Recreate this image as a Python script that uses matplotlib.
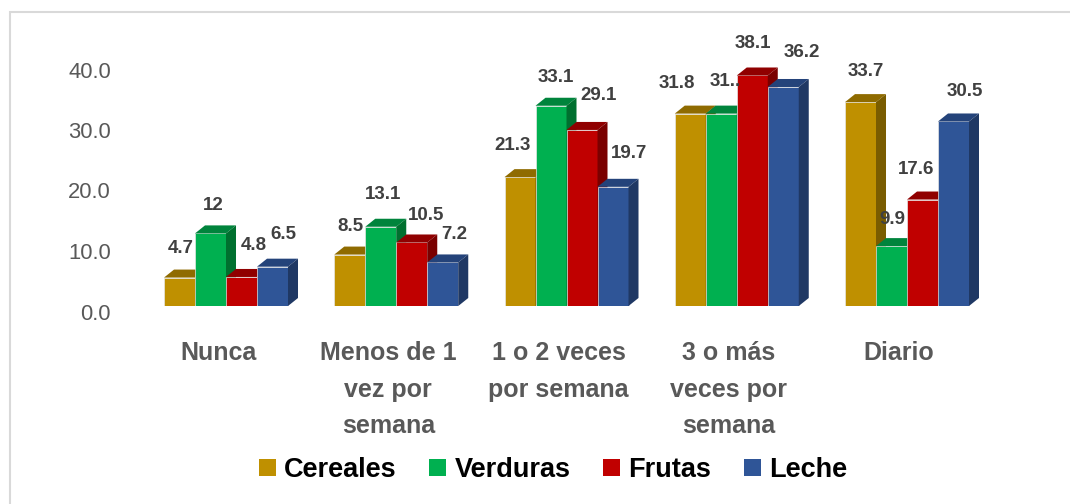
import matplotlib
matplotlib.use("Agg")
import matplotlib.pyplot as plt
from matplotlib.patches import Rectangle, Patch

plt.rcParams['font.family'] = ['Liberation Sans', 'DejaVu Sans']

# ---------------- data ----------------
categories = ["Nunca", "Menos de 1\nvez por\nsemana", "1 o 2 veces\npor semana",
              "3 o más\nveces por\nsemana", "Diario"]
series_names = ["Cereales", "Verduras", "Frutas", "Leche"]
cereales = [4.7, 8.5, 21.3, 31.8, 33.7]
verduras = [12.0, 13.1, 33.1, 31.8, 9.9]
frutas = [4.8, 10.5, 29.1, 38.1, 17.6]
leche = [6.5, 7.2, 19.7, 36.2, 30.5]
# label texts as shown in the chart (one label is truncated in the original)
label_cereales = ["4.7", "8.5", "21.3", "31.8", "33.7"]
label_verduras = ["12", "13.1", "33.1", "31..", "9.9"]
label_frutas = ["4.8", "10.5", "29.1", "38.1", "17.6"]
label_leche = ["6.5", "7.2", "19.7", "36.2", "30.5"]
yticks = [0, 10, 20, 30, 40]
ytick_labels = ["0.0", "10.0", "20.0", "30.0", "40.0"]

series_values = [cereales, verduras, frutas, leche]
series_labels = [label_cereales, label_verduras, label_frutas, label_leche]

# ---------------- styles ----------------
front_colors = ["#BF9000", "#00B050", "#C00000", "#2F5597"]
top_colors = ["#8F6B00", "#00843C", "#900000", "#24437A"]
side_colors = ["#7A5C00", "#00702F", "#7A0000", "#1F3864"]

# label nudges (pixels: dx, dy above front top) per series / category
nudges = [
    [(1.5, 28.6), (0.5, 27.6), (-7, 32), (-13, 30.6), (5, 31)],
    [(3, 28), (2, 32), (5, 28.7), (3.5, 32.6), (1, 27)],
    [(12, 31.5), (14.5, 26.5), (16.5, 34.5), (1, 31.8), (-6, 30)],
    [(11, 31.7), (11, 27.7), (16.5, 33.8), (19, 34.5), (11, 29.5)],
]

W, H = 1070, 504
fig = plt.figure(figsize=(W / 100, H / 100), dpi=100)
fig.patch.set_facecolor("white")

px_per_cat = 170.25
px_per_unit = 6.05
ax_left_px = 111
xmin, xmax = -0.6755, 4.75
ymax = 45
ax_bottom_px = 306
ax = fig.add_axes([ax_left_px / W, (H - ax_bottom_px) / H,
                   (xmax - xmin) * px_per_cat / W, ymax * px_per_unit / H])
ax.set_xlim(xmin, xmax)
ax.set_ylim(0, ymax)
ax.axis("off")

bar_w = 31 / px_per_cat
dx = 10 / px_per_cat
dy = 8 / px_per_unit

for j, (vals, labs) in enumerate(zip(series_values, series_labels)):
    z = 2 + j
    xs = [i - 2 * bar_w + j * bar_w for i in range(len(categories))]
    ax.bar(xs, vals, width=bar_w, align="edge", color=front_colors[j],
           edgecolor="#E6E6E6", linewidth=0.5, zorder=z)
    for i, (x0, h) in enumerate(zip(xs, vals)):
        ax.fill([x0, x0 + bar_w, x0 + bar_w + dx, x0 + dx],
                [h, h, h + dy, h + dy], color=top_colors[j], lw=0, zorder=z)
        ax.fill([x0 + bar_w, x0 + bar_w + dx, x0 + bar_w + dx, x0 + bar_w],
                [0, dy, h + dy, h], color=side_colors[j], lw=0, zorder=z)
        ndx, ndy = nudges[j][i]
        ax.annotate(labs[i], xy=(x0 + bar_w / 2, h), xytext=(ndx, ndy),
                    textcoords="offset pixels", ha="center", va="center",
                    fontsize=13.5, fontweight="bold", color="#404040",
                    zorder=20, annotation_clip=False)

# y tick labels
for v, t in zip(yticks, ytick_labels):
    ax.annotate(t, xy=(0, v), xycoords=ax.get_yaxis_transform(),
                xytext=(0, -8), textcoords="offset pixels",
                ha="right", va="center", fontsize=15.8, color="#595959",
                annotation_clip=False)

# category labels
for i, c in enumerate(categories):
    ax.annotate(c, xy=(i, 0), xytext=(-8, -35), textcoords="offset pixels",
                ha="center", va="top", multialignment="center",
                fontsize=18, fontweight="bold", color="#595959",
                linespacing=1.67, annotation_clip=False)

# legend
handles = [Patch(facecolor=c, edgecolor="none") for c in front_colors]
fig.legend(handles, series_names, loc="center",
           bbox_to_anchor=(553 / W, 1 - 470 / H), ncol=4, frameon=False,
           handlelength=0.63, handleheight=0.63, handletextpad=0.3,
           columnspacing=1.2, borderaxespad=0,
           prop={"family": "Liberation Sans", "weight": "bold", "size": 19.5})

# chart border (light gray)
fig.add_artist(Rectangle((9.5 / W, -0.1), 2, 1 - 12 / H + 0.1,
                         transform=fig.transFigure, fill=False,
                         edgecolor="#D9D9D9", linewidth=1.5))

fig.savefig("out.png", dpi=100)
